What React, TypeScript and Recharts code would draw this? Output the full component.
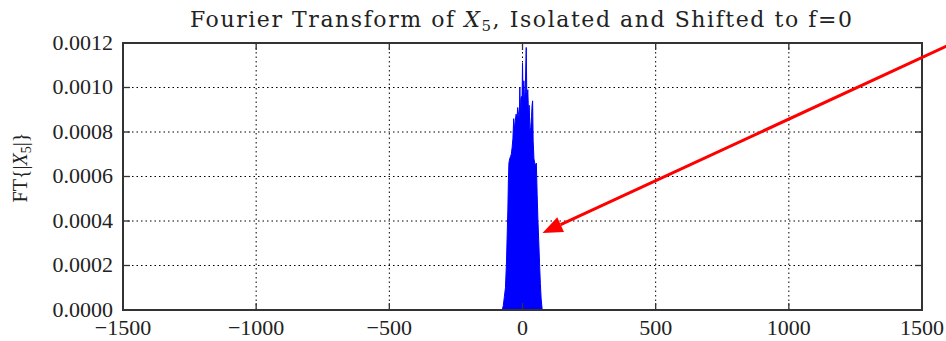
import React from "react";
import {
  ComposedChart,
  Area,
  XAxis,
  YAxis,
  CartesianGrid,
  ReferenceLine,
  ReferenceArea,
} from "recharts";

// Frequency (Hz) of the envelope of the isolated, shifted spectrum
const freqs = [
  -76, -72, -68, -64, -60, -57, -55, -53, -51, -48, -45, -42, -39, -36, -33,
  -30, -27, -24, -21, -18, -15, -12, -10, -8, -6, -4, -2, 0, 2, 5, 8, 11, 14,
  16, 18, 20, 23, 25, 28, 31, 34, 36, 38, 40, 43, 46, 49, 52, 55, 58, 61, 64,
  67, 70, 74,
];
// |FT| values
const magnitudes = [
  0, 0.00002, 0.00006, 0.0001, 0.00022, 0.00036, 0.00045, 0.00058, 0.00066,
  0.00068, 0.00069, 0.0007, 0.00073, 0.00077, 0.00086, 0.00081, 0.00085,
  0.00088, 0.00086, 0.00091, 0.00088, 0.00086, 0.001, 0.00088, 0.00095,
  0.00096, 0.00089, 0.00111, 0.00094, 0.00103, 0.00092, 0.00102, 0.00118,
  0.00098, 0.00097, 0.00099, 0.00086, 0.00092, 0.0008, 0.00082, 0.00087,
  0.00092, 0.00094, 0.00076, 0.00068, 0.00066, 0.00065, 0.00066, 0.00052,
  0.0004, 0.00031, 0.00021, 0.00012, 0.00005, 0,
];

const xTicks = [-1500, -1000, -500, 0, 500, 1000, 1500];
const yTicks = [0, 0.0002, 0.0004, 0.0006, 0.0008, 0.001, 0.0012];
const yTickLabels = ["0.0000", "0.0002", "0.0004", "0.0006", "0.0008", "0.0010", "0.0012"];
const xTickLabels = ["\u22121500", "\u22121000", "\u2212500", "0", "500", "1000", "1500"];
const xDomain = [-1500, 1500];
const yDomain = [0, 0.0012];

// Annotation arrow: from tail (off the right edge) to tip on the spectrum
const arrowTail = { x: 1600, y: 0.00119 };
const arrowTip = { x: 75, y: 0.000346 };

const data = freqs.map((f, i) => ({ f, v: magnitudes[i] }));

const FONT = "'Liberation Serif', 'DejaVu Serif', serif";
const TEXT = "#222";
const FRAME = "#333";
const TICK_LEN = 7;

const Arrow = (props: any) => {
  const { x1, y1, x2, y2 } = props;
  const dx = x2 - x1;
  const dy = y2 - y1;
  const len = Math.sqrt(dx * dx + dy * dy) || 1;
  const ux = dx / len;
  const uy = dy / len;
  const headLen = 20;
  const headHalf = 8;
  const bx = x2 - ux * headLen;
  const by = y2 - uy * headLen;
  const px = -uy;
  const py = ux;
  return (
    <g>
      <line x1={x1} y1={y1} x2={bx} y2={by} stroke="#ff0000" strokeWidth={3} />
      <polygon
        points={`${x2},${y2} ${bx + px * headHalf},${by + py * headHalf} ${bx - px * headHalf},${by - py * headHalf}`}
        fill="#ff0000"
      />
    </g>
  );
};

// Draws only short inward tick marks at both ends of a full reference line
const EndTicks = (props: any) => {
  const { x1, y1, x2, y2 } = props;
  if ([x1, y1, x2, y2].some((v) => typeof v !== "number" || isNaN(v))) return <g />;
  const dx = x2 - x1;
  const dy = y2 - y1;
  const len = Math.sqrt(dx * dx + dy * dy) || 1;
  const ux = (dx / len) * TICK_LEN;
  const uy = (dy / len) * TICK_LEN;
  return (
    <g>
      <line x1={x1} y1={y1} x2={x1 + ux} y2={y1 + uy} stroke={FRAME} strokeWidth={1.3} />
      <line x1={x2} y1={y2} x2={x2 - ux} y2={y2 - uy} stroke={FRAME} strokeWidth={1.3} />
    </g>
  );
};

const YLabel = (props: any) => {
  const vb = props.viewBox || {};
  const cy = vb.y + vb.height / 2 - 9;
  const cx = 27;
  return (
    <text
      x={cx}
      y={cy}
      transform={`rotate(-90, ${cx}, ${cy})`}
      textAnchor="middle"
      fontFamily={FONT}
      fontSize={20}
      fill={TEXT}
    >
      FT{"{"}|<tspan fontStyle="italic">X</tspan>
      <tspan fontSize={14} dy={4}>5</tspan>
      <tspan dy={-4}>|{"}"}</tspan>
    </text>
  );
};

export default function App() {
  return (
    <div style={{ position: "absolute", left: 0, top: 0, width: 946, height: 341, background: "#fff" }}>
      <svg
        width={946}
        height={40}
        style={{ position: "absolute", left: 0, top: 0, zIndex: 2, overflow: "visible", pointerEvents: "none" }}
      >
        <text
          x={190}
          y={27}
          textLength={662}
          lengthAdjust="spacing"
          fontFamily="'DejaVu Serif', serif"
          fontSize={22}
          fill={TEXT}
        >
          Fourier Transform of <tspan fontStyle="italic">X</tspan>
          <tspan fontSize={15} dy={4}>5</tspan>
          <tspan dy={-4}>, Isolated and Shifted to f=0</tspan>
        </text>
      </svg>
      <ComposedChart
        width={946}
        height={341}
        data={data}
        margin={{ top: 43, right: 24, bottom: 1, left: 0 }}
      >
        <CartesianGrid
          stroke="#000"
          strokeDasharray="1.5 3"
          strokeWidth={1}
          horizontalValues={yTicks}
          verticalValues={xTicks}
        />
        <XAxis
          dataKey="f"
          type="number"
          domain={xDomain}
          ticks={xTicks}
          allowDataOverflow
          height={30}
          tickSize={-6}
          tickMargin={10}
          axisLine={{ stroke: FRAME, strokeWidth: 2 }}
          tickLine={false}
          tickFormatter={(v: number) => xTickLabels[xTicks.indexOf(v)] ?? String(v)}
          tick={{ fontFamily: FONT, fontSize: 22, fill: TEXT, dy: 5 }}
        />
        <YAxis
          type="number"
          domain={yDomain}
          ticks={yTicks}
          width={123}
          tickSize={-6}
          tickMargin={16}
          axisLine={{ stroke: FRAME, strokeWidth: 2 }}
          tickLine={false}
          tickFormatter={(v: number) => yTickLabels[yTicks.findIndex((t) => Math.abs(t - v) < 1e-9)] ?? String(v)}
          tick={{ fontFamily: FONT, fontSize: 22, fill: TEXT, dy: -1 }}
          label={{ content: <YLabel /> }}
        />
        <Area
          type="linear"
          dataKey="v"
          stroke="#0000ff"
          strokeWidth={1}
          fill="#0000ff"
          fillOpacity={1}
          isAnimationActive={false}
          dot={false}
          activeDot={false}
        />
        <ReferenceArea
          x1={xDomain[0]}
          x2={xDomain[1]}
          y1={yDomain[0]}
          y2={yDomain[1]}
          fill="none"
          fillOpacity={0}
          stroke={FRAME}
          strokeWidth={2}
          ifOverflow="visible"
        />
        {xTicks.map((t) => (
          <ReferenceLine key={`xt${t}`} x={t} stroke={FRAME} ifOverflow="visible" shape={(p: any) => <EndTicks {...p} />} />
        ))}
        {yTicks.map((t) => (
          <ReferenceLine key={`yt${t}`} y={t} stroke={FRAME} ifOverflow="visible" shape={(p: any) => <EndTicks {...p} />} />
        ))}
        <ReferenceLine
          segment={[arrowTail, arrowTip]}
          ifOverflow="visible"
          shape={<Arrow />}
        />
      </ComposedChart>
    </div>
  );
}
